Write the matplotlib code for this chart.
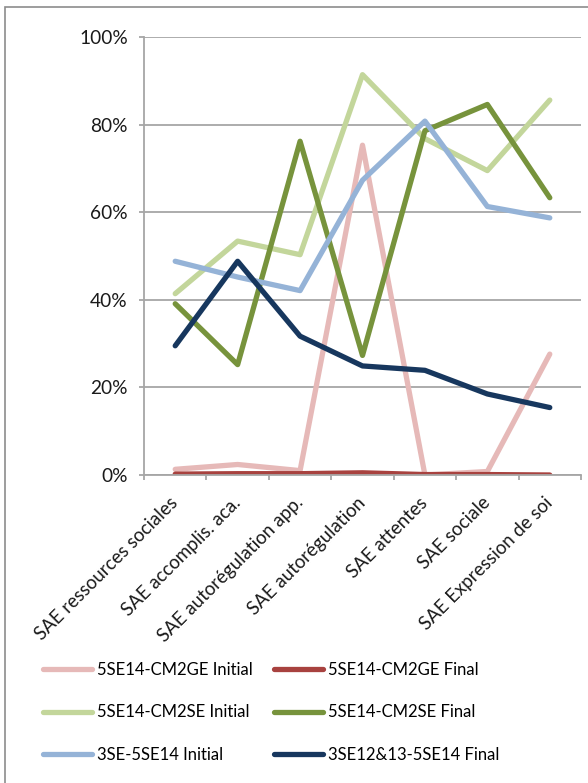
import matplotlib
matplotlib.use("Agg")
import matplotlib.pyplot as plt
from matplotlib.patches import Rectangle
from matplotlib.ticker import FixedLocator, PercentFormatter

plt.rcParams['font.family'] = ['Lato', 'DejaVu Sans']

# data
categories = [
    "SAE ressources sociales",
    "SAE accomplis. aca.",
    "SAE autorégulation app.",
    "SAE autorégulation",
    "SAE attentes",
    "SAE sociale",
    "SAE Expression de soi",
]
cm2ge_initial = [1.3, 2.4, 1.0, 75.3, 0.0, 0.8, 27.6]
cm2ge_final = [0.2, 0.3, 0.3, 0.5, 0.1, 0.1, 0.0]
cm2se_initial = [41.4, 53.4, 50.3, 91.4, 76.8, 69.5, 85.6]
cm2se_final = [39.1, 25.2, 76.2, 27.3, 78.6, 84.6, 63.3]
se3_initial = [48.8, 45.2, 42.1, 67.3, 80.8, 61.3, 58.7]
se12_final = [29.5, 48.8, 31.7, 24.9, 23.9, 18.5, 15.4]

series = [
    ("5SE14-CM2GE Initial", cm2ge_initial, "#E6B9B8"),
    ("5SE14-CM2GE Final", cm2ge_final, "#A8423F"),
    ("5SE14-CM2SE Initial", cm2se_initial, "#C3D69B"),
    ("5SE14-CM2SE Final", cm2se_final, "#77933C"),
    ("3SE-5SE14 Initial", se3_initial, "#95B3D7"),
    ("3SE12&13-5SE14 Final", se12_final, "#17375E"),
]

fig = plt.figure(figsize=(5.88, 7.83), dpi=100)
ax = fig.add_axes([144 / 588, 1 - 475 / 783, (581 - 144) / 588, (475 - 37) / 783])

# outer chart border
fig.patches.append(Rectangle((5 / 588, -0.1), 2, 1.1 - 7 / 783, transform=fig.transFigure,
                             fill=False, edgecolor="#8C8C8C", linewidth=1.2))

x = list(range(len(categories)))
lines = {}
for name, vals, col in series:
    ln, = ax.plot(x, vals, color=col, linewidth=3.8, solid_capstyle="round",
                  solid_joinstyle="round", label=name)
    lines[name] = ln

ax.set_xlim(-0.5, len(categories) - 0.5)
ax.set_ylim(0, 100)
ax.yaxis.set_major_locator(FixedLocator([0, 20, 40, 60, 80, 100]))
ax.yaxis.set_major_formatter(PercentFormatter(decimals=0))
ax.grid(axis="y", color="#A6A6A6", linewidth=1.3)
ax.set_axisbelow(True)

ax.set_xticks(x)
ax.set_xticklabels(categories, rotation=45, ha="right", va="center",
                   rotation_mode="anchor", fontsize=13.4, color="#1A1A1A")
ax.set_xticks([i - 0.5 for i in range(len(categories) + 1)], minor=True)
ax.tick_params(axis="x", which="major", length=0, pad=18)
ax.tick_params(axis="x", which="minor", length=3.6, color="#A6A6A6", width=1.3)
ax.tick_params(axis="y", length=3.6, color="#A6A6A6", width=1.3, labelsize=13.8,
               labelcolor="#1A1A1A", pad=8)

for side in ("top", "right"):
    ax.spines[side].set_visible(False)
for side in ("left", "bottom"):
    ax.spines[side].set_color("#A6A6A6")
    ax.spines[side].set_linewidth(1.3)

order = ["5SE14-CM2GE Initial", "5SE14-CM2SE Initial", "3SE-5SE14 Initial",
         "5SE14-CM2GE Final", "5SE14-CM2SE Final", "3SE12&13-5SE14 Final"]
fig.legend([lines[n] for n in order], order, ncol=2, frameon=False,
           loc="upper left", bbox_to_anchor=(43 / 588, 1 - 662 / 783),
           fontsize=12, handlelength=2.95, handletextpad=0.3,
           columnspacing=1.25, labelspacing=1.58, borderaxespad=0, borderpad=0)

fig.savefig("out.png", dpi=100)
